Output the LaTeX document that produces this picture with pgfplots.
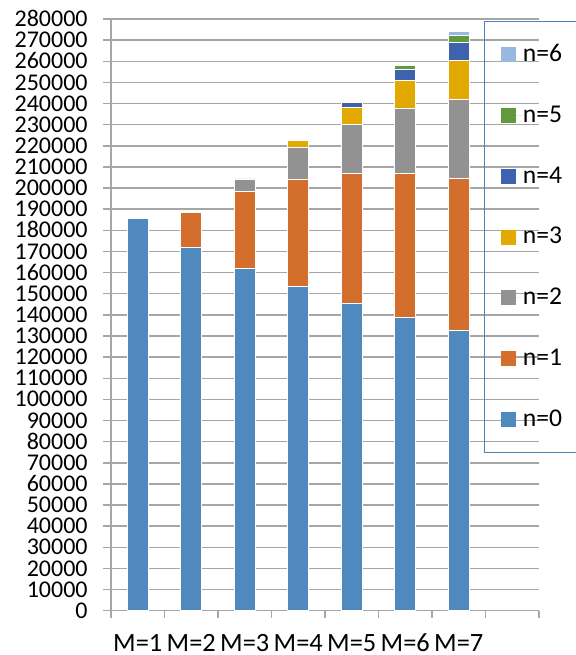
\documentclass[border=0pt]{standalone}
\usepackage{pgfplots}
\pgfplotsset{compat=1.18}
\usepackage{fontspec}
\setmainfont{Carlito}

\definecolor{cN0}{RGB}{79,137,189}
\definecolor{cN1}{RGB}{211,110,44}
\definecolor{cN2}{RGB}{146,146,146}
\definecolor{cN3}{RGB}{226,170,0}
\definecolor{cN4}{RGB}{61,99,174}
\definecolor{cN5}{RGB}{99,153,61}
\definecolor{cN6}{RGB}{151,185,224}
\definecolor{gridgray}{RGB}{166,166,166}
\definecolor{legblue}{RGB}{79,129,189}

\begin{document}
\begin{tikzpicture}
\begin{axis}[
  at={(55.5pt,22.15pt)}, anchor=south west,
  scale only axis, width=214pt, height=295.85pt,
  ybar stacked, bar width=10.5pt,
  xmin=0.5, xmax=8.5, ymin=0, ymax=280000,
  xtick={1,...,7},
  xticklabels={M=1,M=2,M=3,M=4,M=5,M=6,M=7},
  minor xtick={0.5,1.5,...,8.5},
  ytick={0,10000,...,280000},
  scaled y ticks=false,
  yticklabel={\pgfmathprintnumber[fixed,precision=0,set thousands separator={},assume math mode=true]{\tick}},
  axis lines*=left,
  axis line style={gridgray, line width=0.75pt},
  ymajorgrids, grid style={gridgray, line width=0.75pt},
  tick align=outside,
  x tick style={draw=none},
  minor x tick style={draw=gridgray, line width=0.75pt},
  minor tick length=3.5pt,
  y tick style={gridgray, line width=0.75pt},
  major tick length=4pt,
  tick label style={text=black},
  yticklabel style={font=\fontsize{12}{14}\selectfont, inner sep=0pt, anchor=east, xshift=-7.5pt, text height=7.6pt, text depth=0pt},
  xticklabel style={font=\fontsize{13.2}{15}\selectfont, inner sep=0pt, anchor=north, yshift=-8pt, text height=8.4pt, text depth=0pt},
  reverse legend,
  legend image code/.code={\fill[#1, draw=none] (0pt,-3.75pt) rectangle (7.5pt,3.75pt);
    \path (7.5pt,0pt) -- (11pt,0pt);},
  legend style={at={(0.8715,0.9966)}, anchor=north west,
    draw=legblue, line width=0.6pt, fill=none,
    inner xsep=8pt, inner ysep=11.5pt, row sep=20.6pt,
    nodes={inner sep=0pt, font=\fontsize{12.8}{15}\selectfont},
    /tikz/every even column/.append style={text width=36pt}},
  legend cell align=left,
]
\addplot[fill=cN0, draw=white, line width=0.3pt] coordinates {(1,185500) (2,172100) (3,161800) (4,153300) (5,145700) (6,138800) (7,132700)};
\addplot[fill=cN1, draw=white, line width=0.3pt] coordinates {(1,0) (2,16400) (3,36500) (4,51000) (5,61300) (6,68200) (7,71700)};
\addplot[fill=cN2, draw=white, line width=0.3pt] coordinates {(1,0) (2,0) (3,6000) (4,14800) (5,23300) (6,30900) (7,37600)};
\addplot[fill=cN3, draw=white, line width=0.3pt] coordinates {(1,0) (2,0) (3,0) (4,3500) (5,8050) (6,13100) (7,18300)};
\addplot[fill=cN4, draw=white, line width=0.3pt] coordinates {(1,0) (2,0) (3,0) (4,0) (5,2350) (6,5200) (7,8500)};
\addplot[fill=cN5, draw=white, line width=0.3pt] coordinates {(1,0) (2,0) (3,0) (4,0) (5,0) (6,1700) (7,3600)};
\addplot[fill=cN6, draw=white, line width=0.3pt] coordinates {(1,0) (2,0) (3,0) (4,0) (5,0) (6,0) (7,1900)};
\legend{n=0,n=1,n=2,n=3,n=4,n=5,n=6}
\end{axis}
\pgfresetboundingbox
\path[use as bounding box] (0,0) rectangle (288pt,327.5pt);
\end{tikzpicture}
\end{document}
